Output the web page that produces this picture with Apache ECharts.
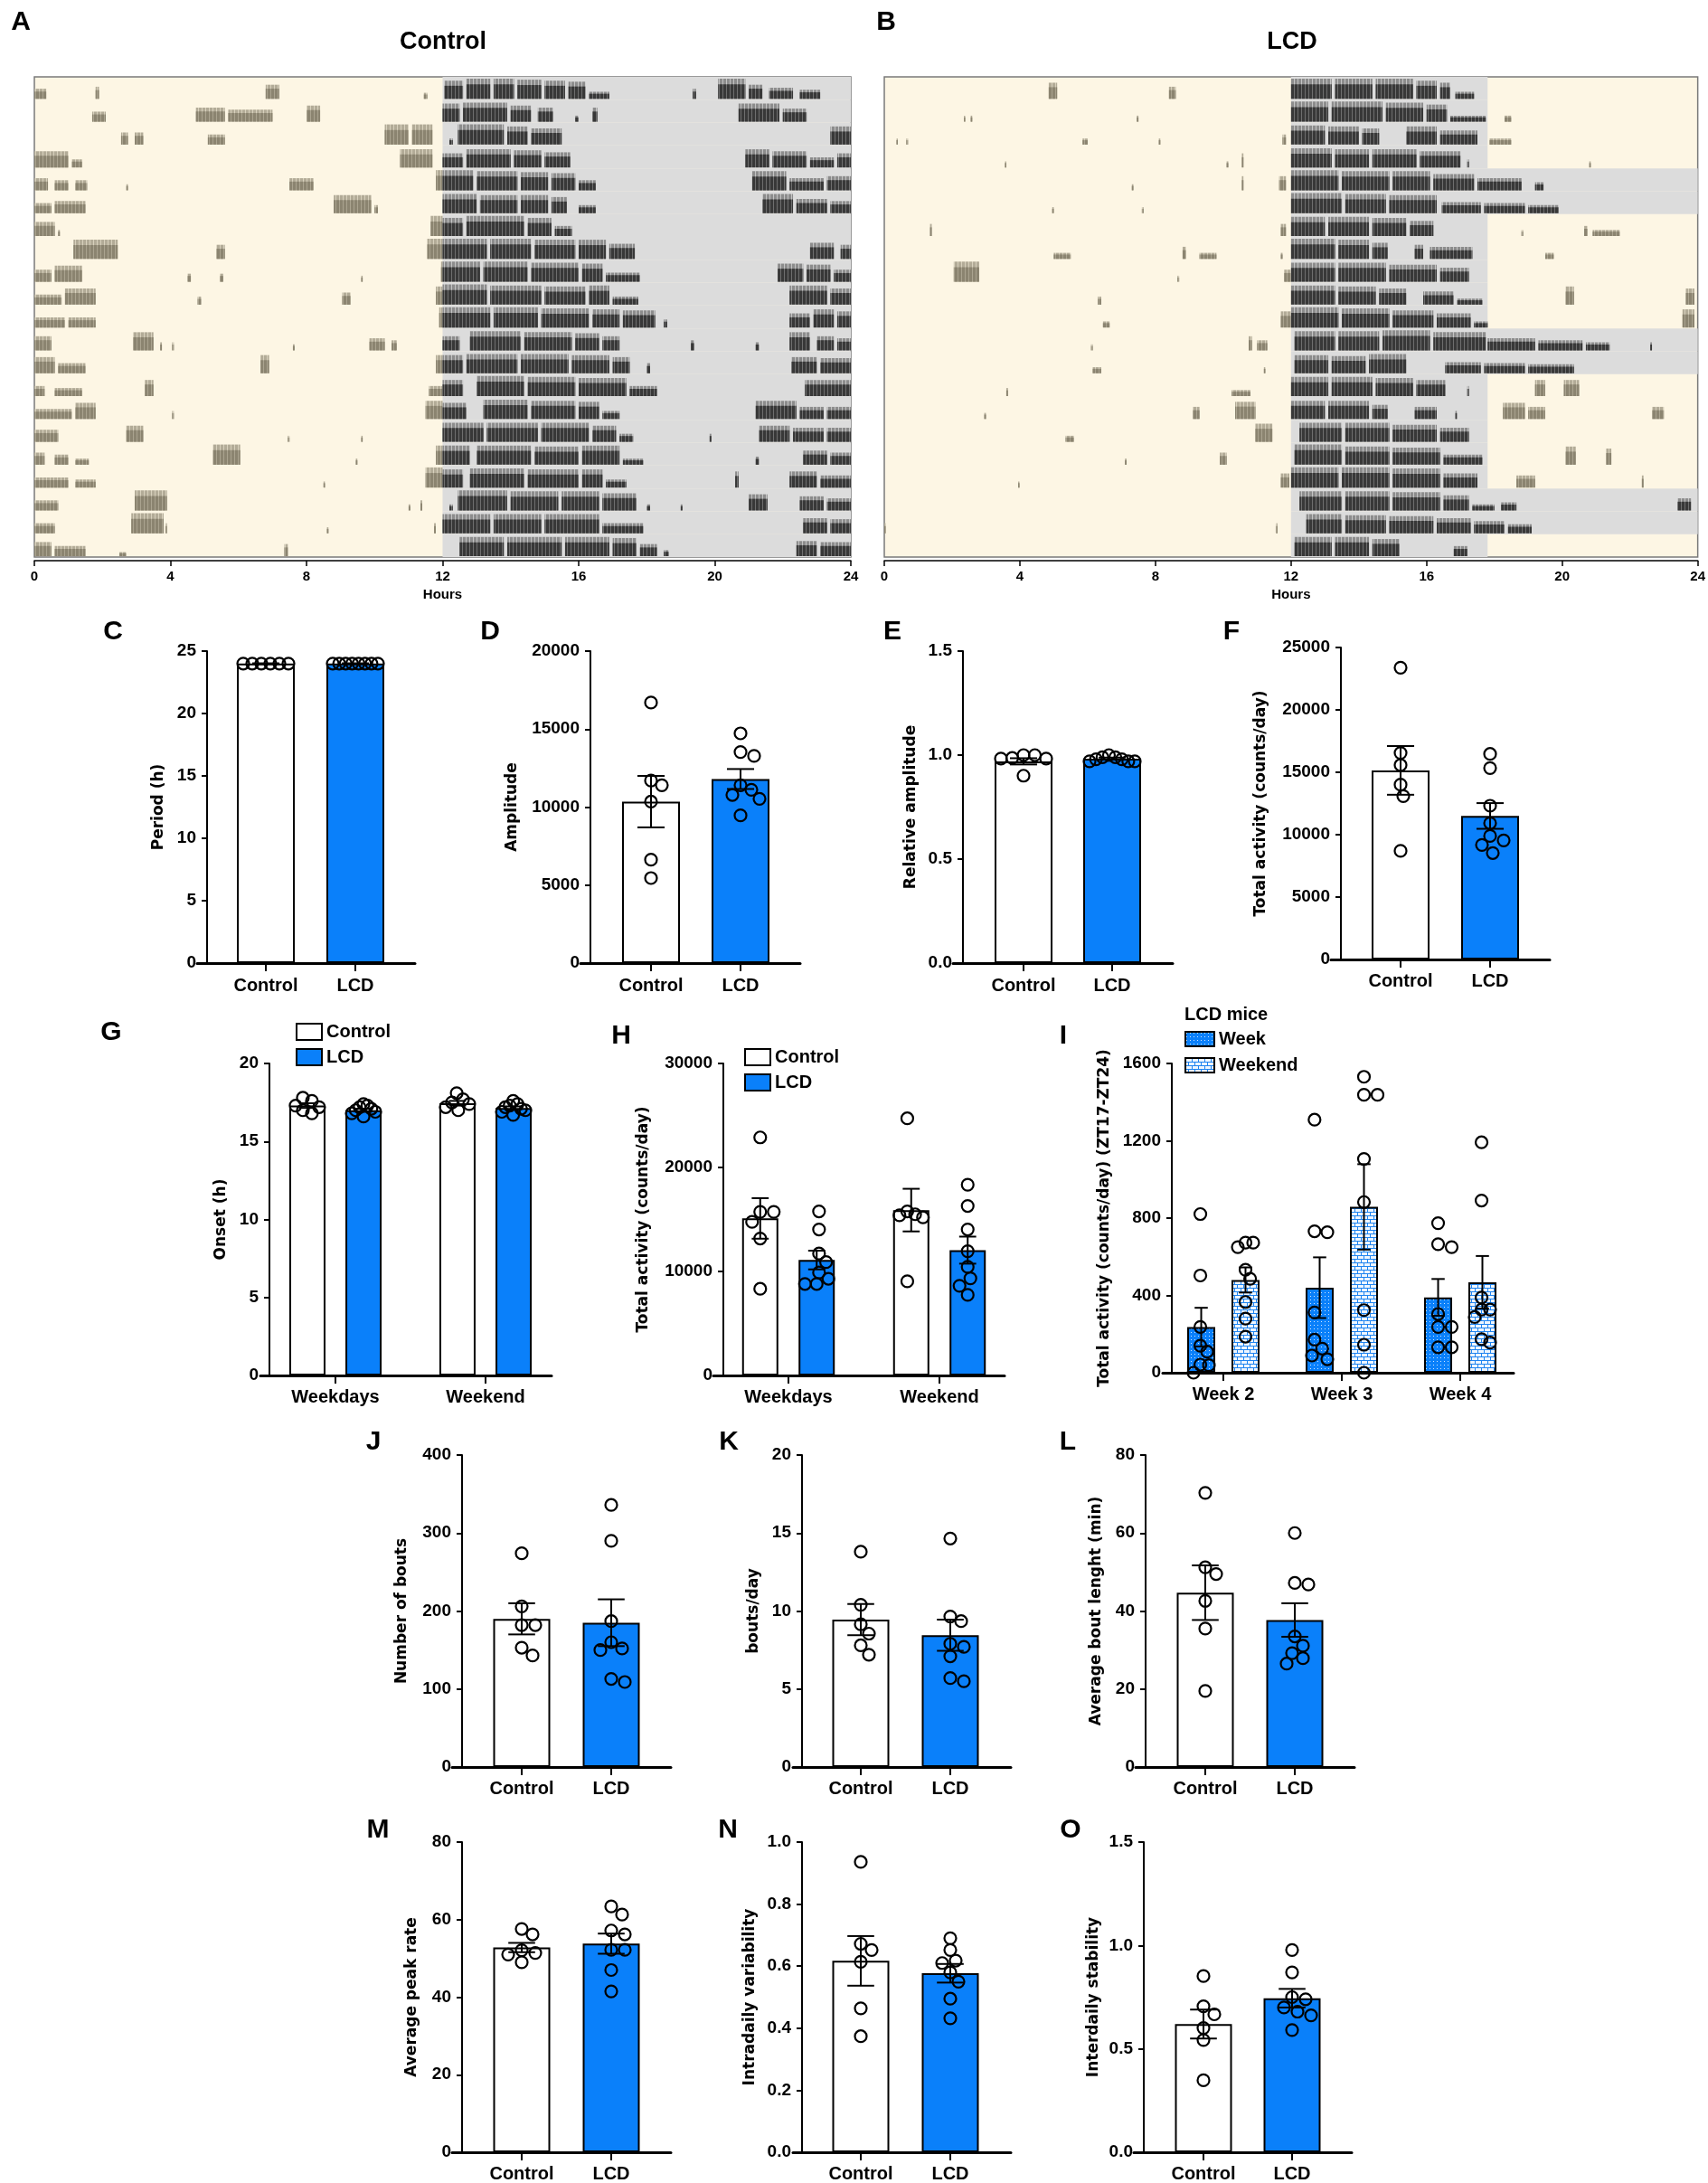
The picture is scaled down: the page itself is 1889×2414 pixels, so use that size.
<!DOCTYPE html>
<html>
<head>
<meta charset="utf-8">
<title>Activity</title>
<script src="https://cdn.jsdelivr.net/npm/echarts@6.0.0/dist/echarts.min.js"></script>
<style>
  html, body { margin: 0; padding: 0; background: #fff; }
  #chart { width: 1889px; height: 2414px; }
</style>
</head>
<body>
<div id="chart"></div>
<script>
// ---------- actogram data: per day row, bouts as [startHour, endHour, relativeHeight] ----------
const ctlRows = [
  [[0,0.35,.5],[1.8,1.9,.6],[6.8,7.2,.7],[11.45,11.55,.3],[12.05,12.6,.9],[12.7,13.4,1],[13.5,14.1,1],[14.2,14.9,.95],[15.0,15.6,.9],[15.7,16.2,.85],[16.3,16.9,.35],[19.35,19.45,.5],[20.1,20.9,1],[21.0,21.4,.7],[21.6,22.3,.55],[22.5,23.1,.45]],
  [[1.7,2.1,.5],[4.75,5.6,.7],[5.7,7.0,.6],[8.0,8.4,.8],[12.0,12.5,.9],[12.6,13.9,.95],[14.0,14.6,.8],[14.8,15.25,.7],[15.9,16.0,.3],[16.4,16.55,.7],[20.7,21.9,.9],[22.0,22.7,.65]],
  [[2.55,2.75,.6],[2.95,3.2,.6],[5.1,5.6,.5],[10.3,11.0,1],[11.1,11.7,1],[12.2,12.3,.3],[12.45,13.8,1],[13.9,14.5,.9],[14.6,15.5,.8],[23.4,24,.9]],
  [[0,1.0,.8],[1.1,1.4,.4],[10.75,11.7,.9],[12.0,12.6,.7],[12.7,14.0,.9],[14.1,14.9,.85],[15.0,15.75,.75],[20.9,21.6,.9],[21.7,22.7,.8],[22.8,23.5,.5],[23.6,24,.7]],
  [[0,0.4,.6],[0.6,1.0,.5],[1.2,1.55,.5],[2.7,2.75,.3],[7.5,8.2,.6],[11.8,12.9,1],[13.0,14.2,.95],[14.3,15.1,.9],[15.2,15.9,.85],[16.0,16.5,.5],[21.1,22.1,.95],[22.2,23.2,.6],[23.3,24,.7]],
  [[0,0.5,.5],[0.6,1.5,.6],[8.8,9.9,.9],[10.0,10.1,.4],[12.0,13.0,.95],[13.1,14.2,.9],[14.3,15.1,.9],[15.2,15.65,.8],[16.0,16.5,.4],[21.4,22.3,.95],[22.4,23.3,.7],[23.4,24,.6]],
  [[0,0.6,.7],[0.7,0.75,.3],[11.65,12.0,1],[12.0,12.6,.9],[12.7,14.4,1],[14.5,15.2,.9],[15.3,15.8,.5]],
  [[1.15,2.45,.95],[5.35,5.6,.7],[11.55,12.0,1],[12.0,13.3,1],[13.4,14.6,1],[14.7,15.9,.95],[16.0,16.8,.95],[16.9,17.65,.75],[22.8,23.5,.8],[23.7,24,.7]],
  [[0,0.5,.6],[0.6,1.4,.8],[4.5,4.6,.4],[5.45,5.55,.4],[9.6,9.65,.3],[11.95,13.1,1],[13.2,14.5,1],[14.6,16.0,.95],[16.1,16.7,.9],[16.8,17.8,.45],[21.85,22.6,.9],[22.7,23.4,.85],[23.5,24,.6]],
  [[0,0.8,.5],[0.9,1.8,.8],[4.8,4.9,.4],[9.05,9.3,.6],[11.8,12.0,.9],[12.0,13.3,1],[13.4,14.9,.95],[15.0,16.2,.9],[16.3,16.9,.95],[17.0,17.75,.4],[22.2,23.3,.95],[23.4,24,.8]],
  [[0,0.9,.5],[1.0,1.8,.5],[11.9,13.4,1],[13.5,14.8,1],[14.9,16.3,.95],[16.4,17.2,.9],[17.3,18.25,.85],[18.5,18.6,.4],[22.2,22.8,.7],[22.9,23.5,.9],[23.6,24,.8]],
  [[0,0.5,.7],[2.9,3.5,.9],[3.7,3.75,.4],[4.05,4.1,.4],[7.6,7.65,.3],[9.85,10.3,.6],[10.5,10.65,.5],[12.0,12.5,.7],[12.8,14.3,.95],[14.4,15.8,.9],[15.9,16.6,.85],[16.7,17.2,.7],[19.3,19.4,.5],[21.2,21.3,.4],[22.2,22.8,.9],[23.0,23.5,.7],[23.6,24,.6]],
  [[0,0.6,.8],[0.7,1.5,.5],[6.65,6.9,.9],[11.8,12.6,.9],[12.7,14.2,.95],[14.3,15.7,.95],[15.8,16.9,.9],[17.0,17.5,.8],[18.0,18.1,.5],[22.25,23.0,.8],[23.1,24,.75]],
  [[0,0.3,.5],[0.6,1.4,.4],[3.25,3.5,.8],[11.6,12.0,.5],[12.0,12.6,.8],[13.0,14.4,1],[14.5,15.9,.95],[16.0,17.4,.9],[17.5,18.3,.5],[22.65,24,.8]],
  [[0,1.1,.5],[1.2,1.8,.8],[4.05,4.1,.4],[11.5,12.0,.9],[12.0,12.7,.8],[13.2,14.5,.95],[14.6,15.9,.9],[16.0,16.6,.85],[16.7,17.2,.4],[21.2,22.4,.9],[22.5,23.2,.6],[23.3,24,.6]],
  [[0,0.7,.6],[2.7,3.2,.8],[7.45,7.5,.3],[9.6,9.65,.3],[12.0,13.2,.95],[13.3,14.8,.95],[14.9,16.3,.95],[16.4,17.1,.8],[17.2,17.6,.4],[19.85,19.9,.4],[21.3,22.2,.8],[22.3,23.2,.7],[23.3,24,.7]],
  [[0,0.3,.6],[0.6,1.0,.5],[1.2,1.6,.3],[5.25,6.05,1],[9.45,9.5,.3],[11.8,12.8,.95],[13.0,14.6,.95],[14.7,16.0,.9],[16.1,17.2,.95],[17.3,17.9,.3],[21.2,21.3,.4],[22.6,23.3,.7],[23.4,24,.6]],
  [[0,1.0,.5],[1.2,1.8,.4],[8.5,8.55,.3],[11.5,12.0,1],[12.0,12.6,.9],[12.8,14.4,.95],[14.5,16.0,.9],[16.1,16.7,.9],[16.8,17.4,.4],[20.6,20.7,.8],[22.2,23.0,.8],[23.1,24,.6]],
  [[0,0.7,.5],[2.95,3.9,1],[11.0,11.05,.3],[11.35,11.4,.5],[12.2,12.3,.3],[12.45,13.9,1],[14.0,15.4,.95],[15.5,16.6,.95],[16.7,17.7,.85],[18.0,18.1,.3],[19.0,19.05,.3],[21.0,21.55,.8],[22.5,23.2,.7],[23.3,24,.6]],
  [[0,0.6,.5],[2.85,3.8,1],[3.85,3.9,.5],[8.6,8.65,.3],[11.75,11.8,.5],[12.0,13.4,.95],[13.5,14.9,.95],[15.0,16.6,.95],[16.7,17.9,.5],[22.6,23.3,.75],[23.4,24,.7]],
  [[0,0.5,.7],[0.6,1.5,.5],[2.5,2.7,.2],[7.35,7.45,.6],[12.5,13.8,.95],[13.9,15.5,.95],[15.6,16.9,.95],[17.0,17.7,.9],[17.8,18.3,.6],[18.5,18.65,.3],[22.4,23.0,.75],[23.1,24,.7]]
];
const lcdRows = [
  [[4.85,5.1,.8],[8.4,8.6,.6],[12.0,13.2,1],[13.3,14.4,1],[14.5,15.6,1],[15.7,16.3,.9],[16.4,16.7,.8],[16.85,17.4,.35]],
  [[2.35,2.4,.3],[2.55,2.6,.3],[7.45,7.5,.3],[12.0,13.1,1],[13.2,14.7,1],[14.8,15.9,.95],[16.0,16.6,.85],[16.7,17.75,.3],[18.3,18.5,.3]],
  [[0.35,0.4,.3],[0.65,0.7,.3],[5.85,6.0,.3],[8.1,8.15,.3],[11.75,11.85,.5],[12.0,13.0,.95],[13.1,14.0,.9],[14.1,14.6,.8],[15.4,16.3,.9],[16.4,17.5,.7],[17.85,18.5,.3]],
  [[3.55,3.6,.3],[10.1,10.15,.3],[10.55,10.6,.7],[12.0,13.2,.95],[13.3,14.3,.9],[14.4,15.7,.9],[15.8,17.0,.8],[17.2,17.25,.4],[20.8,20.85,.3]],
  [[7.3,7.35,.3],[10.55,10.6,.7],[11.65,11.85,.7],[12.0,13.4,1],[13.5,14.9,.95],[15.0,16.1,.95],[16.2,17.4,.8],[17.5,18.8,.6],[19.2,19.45,.4]],
  [[4.95,5.0,.3],[7.6,7.65,.3],[12.0,13.5,1],[13.6,14.8,.95],[14.9,16.3,.9],[16.45,17.6,.55],[17.7,18.9,.5],[19.0,19.9,.4]],
  [[1.35,1.4,.6],[11.7,11.85,.6],[12.0,13.0,.95],[13.1,14.3,.95],[14.4,15.4,.9],[15.5,16.2,.75],[18.8,18.85,.3],[20.65,20.75,.5],[20.9,21.7,.3]],
  [[5.0,5.5,.3],[8.8,8.9,.6],[9.3,9.8,.3],[11.7,11.75,.3],[12.0,13.3,1],[13.4,14.3,.95],[14.4,14.85,.8],[15.65,15.9,.7],[16.1,17.35,.6],[19.5,19.75,.3]],
  [[2.05,2.8,1],[8.65,8.7,.3],[11.8,12.0,.6],[12.0,13.3,.95],[13.4,14.8,.95],[14.9,16.3,.85],[16.4,17.25,.7]],
  [[6.3,6.4,.4],[12.0,13.3,.95],[13.4,14.5,.9],[14.6,15.4,.8],[15.9,16.8,.65],[16.9,17.65,.3],[20.1,20.35,.9],[23.65,23.9,.8]],
  [[6.45,6.65,.3],[11.7,12.0,.8],[12.0,13.4,1],[13.5,14.9,.95],[15.0,16.2,.85],[16.3,17.3,.7],[17.4,17.8,.3],[23.55,23.9,.9]],
  [[6.1,6.15,.3],[10.75,10.85,.7],[11.0,11.3,.5],[12.1,13.3,.95],[13.4,14.6,.95],[14.7,16.1,1],[16.2,17.75,.9],[17.8,19.2,.6],[19.3,20.6,.5],[20.7,21.4,.4],[22.6,22.65,.4]],
  [[6.15,6.4,.3],[11.2,11.25,.3],[12.1,13.1,.9],[13.2,14.2,.85],[14.3,15.4,.95],[16.55,17.6,.55],[17.7,18.9,.5],[19.0,20.35,.45]],
  [[3.6,3.65,.4],[10.25,10.8,.3],[12.0,13.1,.95],[13.2,14.4,.95],[14.5,15.6,.9],[15.7,16.55,.8],[17.2,17.25,.5],[19.2,19.5,.8],[20.05,20.5,.8]],
  [[2.95,3.0,.3],[9.1,9.3,.6],[10.35,10.95,.85],[12.0,13.0,.9],[13.1,14.3,.9],[14.4,14.85,.7],[15.65,16.3,.6],[16.85,16.9,.4],[18.25,18.9,.8],[19.0,19.5,.6],[22.65,23.0,.6]],
  [[5.35,5.6,.3],[10.95,11.45,.9],[12.25,13.5,.95],[13.6,14.9,.95],[15.0,16.3,.85],[16.4,17.25,.7]],
  [[7.1,7.15,.3],[9.9,10.1,.6],[12.1,13.5,1],[13.6,14.9,.9],[15.0,16.4,.85],[16.5,17.65,.5],[20.1,20.4,.9],[21.3,21.45,.8]],
  [[3.95,4.0,.3],[11.7,11.95,.7],[12.0,13.4,1],[13.5,14.9,1],[15.0,16.4,.95],[16.5,17.5,.7],[18.65,19.2,.6],[22.35,22.4,.6]],
  [[12.25,13.5,.95],[13.6,14.9,.95],[15.0,16.4,.9],[16.5,17.25,.75],[17.35,18.0,.3],[18.2,18.65,.4],[23.4,23.8,.6]],
  [[0,0.05,.5],[11.55,11.6,.5],[12.45,13.5,.95],[13.6,14.8,.9],[14.9,16.2,.85],[16.3,17.3,.75],[17.4,18.3,.6],[18.4,19.1,.45]],
  [[12.1,13.2,.95],[13.3,14.3,.95],[14.4,15.2,.85],[16.8,17.2,.5]]
];
const darkOnset = 12;
const ctlDarkEnd = 24;
const lcdDarkEnd = 17.8;
const lcdWeekendRows = [4, 5, 11, 12, 18, 19];

// ---------- summary data: mean, SEM and individual animals ----------
const periodMean = [24.0, 24.0];
const periodSem = [0.02, 0.02];
const periodPts = [[24, 24, 24, 24, 24, 24], [24, 24, 24, 24, 24, 24, 24, 24]];

const ampMean = [10350, 11800];
const ampSem = [1650, 640];
const ampPts = [[16700, 11700, 11400, 10350, 6630, 5450], [14725, 13530, 13280, 11400, 11110, 10780, 10530, 9470]];

const relAmpMean = [0.97, 0.983];
const relAmpSem = [0.015, 0.005];
const relAmpPts = [[1.0, 0.983, 1.0, 0.983, 0.986, 0.901], [0.99, 0.97, 1.0, 0.98, 0.99, 0.97, 0.98, 0.97]];

const totalMean = [15150, 11500];
const totalSem = [1950, 1030];
const totalPts = [[23380, 16550, 15580, 14010, 13090, 8700], [16470, 15340, 12320, 10920, 9900, 9540, 9180, 8530]];

// weekdays Control, weekdays LCD, weekend Control, weekend LCD
const onsetMean = [17.3, 17.0, 17.45, 17.15];
const onsetSem = [0.15, 0.1, 0.15, 0.1];
const onsetPts = [[17.8, 17.6, 17.3, 17.2, 17.0, 16.8], [17.4, 17.3, 17.2, 17.1, 17.0, 16.9, 16.8, 16.6],
                  [18.1, 17.7, 17.5, 17.4, 17.2, 17.0], [17.6, 17.4, 17.3, 17.2, 17.1, 17.0, 16.9, 16.7]];

const weekTotalMean = [15100, 11100, 15900, 12050];
const weekTotalSem = [1950, 900, 2050, 1300];
const weekTotalPts = [[22890, 15730, 15730, 14770, 13170, 8330], [15780, 14040, 11720, 10900, 9900, 9300, 8800, 8800],
                      [24720, 15780, 15500, 15400, 15200, 9050], [18340, 16300, 14040, 11950, 10440, 9340, 8620, 7750]];

// week 2..4, each: Week, Weekend (LCD mice, ZT17-ZT24)
const lateMean = [236, 480, 440, 858, 390, 468];
const lateSem = [100, 65, 157, 221, 95, 136];
const latePts = [[821, 503, 237, 140, 109, 42, 39, 0], [673, 650, 673, 533, 486, 366, 280, 187],
                 [1309, 732, 727, 312, 171, 125, 89, 70], [1531, 1438, 1438, 1106, 883, 324, 145, 0],
                 [774, 665, 650, 304, 237, 237, 132, 132], [1192, 891, 389, 327, 327, 288, 174, 156]];

const boutsMean = [190, 185];
const boutsSem = [20, 30];
const boutsPts = [[274, 206, 182, 182, 153, 143], [336, 290, 187, 160, 152, 150, 113, 109]];

const boutsDayMean = [9.45, 8.45];
const boutsDaySem = [1.0, 1.0];
const boutsDayPts = [[13.8, 10.4, 9.15, 8.55, 7.8, 7.2], [14.65, 9.65, 9.35, 7.9, 7.7, 7.1, 5.7, 5.5]];

const boutLenMean = [44.7, 37.7];
const boutLenSem = [7.0, 4.3];
const boutLenPts = [[70.3, 51.2, 49.5, 42.6, 35.5, 19.5], [60, 47.2, 46.8, 33.5, 31.1, 29.2, 27.9, 26.5]];

const peakMean = [52.8, 53.8];
const peakSem = [1.2, 2.6];
const peakPts = [[57.6, 56.2, 52.1, 51.4, 51.0, 49.0], [63.4, 61.3, 57.2, 56.2, 52.2, 52.2, 47.0, 41.5]];

const ivMean = [0.617, 0.577];
const ivSem = [0.08, 0.03];
const ivPts = [[0.936, 0.672, 0.652, 0.614, 0.464, 0.374], [0.69, 0.652, 0.618, 0.61, 0.58, 0.55, 0.495, 0.432]];

const isMean = [0.62, 0.745];
const isSem = [0.07, 0.045];
const isPts = [[0.852, 0.706, 0.667, 0.601, 0.543, 0.348], [0.978, 0.87, 0.75, 0.74, 0.70, 0.68, 0.662, 0.591]];

// ---------- styles ----------
const FONT = 'Liberation Sans, Arial, sans-serif';
const NAME_FONT = 'DejaVu Sans, Verdana, sans-serif';
const BLUE = '#0a80fa';
const CREAM = '#fdf6e4';
const GREY = '#dcdcdc';

function makePattern(w, h, draw) {
  const cv = document.createElement('canvas');
  cv.width = w; cv.height = h;
  draw(cv.getContext('2d'));
  return { image: cv, repeat: 'repeat' };
}
function stripes(c1, c2) {
  return makePattern(4, 4, g => {
    g.fillStyle = c1; g.fillRect(0, 0, 3, 4);
    g.fillStyle = c2; g.fillRect(3, 0, 1, 4);
  });
}
// [tip fill, body fill] for activity in the dark and in the light
const darkFill = [stripes('#8c8c8c', '#c4c4c4'), stripes('#383838', '#6e6e6e')];
const lightFill = [stripes('#b2ab97', '#d8d1bd'), stripes('#8b8470', '#aaa38f')];
const weekFill = makePattern(4, 4, g => {
  g.fillStyle = BLUE; g.fillRect(0, 0, 4, 4);
  g.fillStyle = '#cfe6ff'; g.fillRect(1, 1, 1, 1);
});
const weekendFill = makePattern(14, 8, g => {
  g.fillStyle = '#eef6ff'; g.fillRect(0, 0, 14, 8);
  g.fillStyle = '#1f84f0';
  g.fillRect(0, 0, 14, 1); g.fillRect(0, 4, 14, 1);
  g.fillRect(0, 0, 1, 4); g.fillRect(7, 0, 1, 4);
  g.fillRect(3, 4, 1, 4); g.fillRect(10, 4, 1, 4);
});

const ROLE_STYLE = {
  Control: { color: '#ffffff', borderColor: '#000', borderWidth: 2 },
  LCD: { color: BLUE, borderColor: '#000', borderWidth: 2 },
  Week: { color: weekFill, borderColor: '#000', borderWidth: 2 },
  Weekend: { color: weekendFill, borderColor: '#000', borderWidth: 2 }
};
const txt = (size, family) => ({ fontFamily: family || FONT, fontWeight: 'bold', fontSize: size, color: '#000' });

const grids = [], xAxes = [], yAxes = [], series = [], legends = [], graphics = [];

// ---------- actogram ----------
function actogram(rows, darkEnds, box) {
  const gi = grids.length;
  grids.push({ left: box.x0, top: box.top, width: box.x1 - box.x0, height: box.bottom - box.top,
    show: true, backgroundColor: CREAM, borderColor: '#7a7a7a', borderWidth: 1.5 });
  xAxes.push({ type: 'value', gridIndex: gi, min: 0, max: 24, interval: 4, offset: 4,
    name: 'Hours', nameLocation: 'middle', nameGap: 30, nameTextStyle: txt(15),
    axisLine: { onZero: false, lineStyle: { color: '#000', width: 1.5 } },
    axisTick: { length: 6, lineStyle: { color: '#000', width: 1.5 } },
    axisLabel: Object.assign({ margin: 10 }, txt(15)),
    splitLine: { show: false } });
  yAxes.push({ type: 'value', gridIndex: gi, min: 0, max: rows.length, inverse: true, show: false });

  const bg = darkEnds.map((de, r) => [darkOnset, r, de]);
  const act = [];
  rows.forEach((segs, r) => {
    const de = darkEnds[r];
    segs.forEach(([s, e, h]) => {
      if (s < darkOnset) act.push([s, r, Math.min(e, darkOnset), h, 0]);
      if (e > darkOnset && s < de) act.push([Math.max(s, darkOnset), r, Math.min(e, de), h, 1]);
      if (e > de) act.push([Math.max(s, de), r, e, h, 0]);
    });
  });
  series.push({ type: 'custom', xAxisIndex: gi, yAxisIndex: gi, data: bg, silent: true, z: 1,
    encode: { x: [0, 2], y: 1 },
    renderItem: (params, api) => {
      const a = api.coord([api.value(0), api.value(1)]);
      const b = api.coord([api.value(2), api.value(1) + 1]);
      return { type: 'rect', shape: { x: a[0], y: a[1], width: b[0] - a[0], height: b[1] - a[1] },
        style: { fill: GREY } };
    } });
  series.push({ type: 'custom', xAxisIndex: gi, yAxisIndex: gi, data: act, silent: true, z: 2,
    encode: { x: [0, 2], y: 1 },
    renderItem: (params, api) => {
      const r = api.value(1);
      const a = api.coord([api.value(0), r + 1]);
      const b = api.coord([api.value(2), r + 1]);
      const rowH = Math.abs(api.size([0, 1])[1]);
      const hgt = api.value(3) * (rowH - 3);
      const w = Math.max(b[0] - a[0], 1.5);
      const fills = api.value(4) ? darkFill : lightFill;
      const base = a[1] - 1;
      return { type: 'group', children: [
        { type: 'rect', shape: { x: a[0], y: base - hgt, width: w, height: hgt }, style: { fill: fills[0] } },
        { type: 'rect', shape: { x: a[0], y: base - hgt * 0.72, width: w, height: hgt * 0.72 }, style: { fill: fills[1] } }
      ] };
    } });
}

// ---------- beeswarm offsets (pixels) so circles do not pile up ----------
function swarm(vals, ppu, maxSpread) {
  const D = 13, step = 3;
  const placed = [];
  let dx = vals.map(() => 0);
  const order = vals.map((v, i) => i).sort((a, b) => vals[b] - vals[a]);
  order.forEach(i => {
    const y = vals[i] * ppu;
    for (let k = 0; k < 400; k++) {
      const off = (k % 2 ? 1 : -1) * Math.ceil(k / 2) * step;
      if (placed.every(q => Math.hypot(q.x - off, q.y - y) >= D)) {
        dx[i] = off; placed.push({ x: off, y: y }); break;
      }
    }
  });
  const lo = Math.min(...dx), hi = Math.max(...dx);
  if (hi - lo > maxSpread) {
    const f = maxSpread / (hi - lo), mid = (hi + lo) / 2;
    dx = dx.map(d => (d - mid) * f);
  }
  return dx;
}

// ---------- bar + dots + SEM panel ----------
function barPanel(p) {
  const gi = grids.length;
  const sp = p.c[1] - p.c[0];
  const toX = px => (px - p.c[0]) / sp;
  const per = p.mean.length / p.groups.length;
  const gx = p.groups.map((g, i) => i);
  grids.push({ left: p.x0, top: p.top, width: p.x1 - p.x0, height: p.bottom - p.top });
  xAxes.push({ type: 'value', gridIndex: gi, min: toX(p.x0), max: toX(p.x1),
    axisLine: { onZero: false, lineStyle: { color: '#000', width: 3 } },
    axisTick: { customValues: gx, length: 9, lineStyle: { color: '#000', width: 2 } },
    axisLabel: Object.assign({ customValues: gx, margin: p.lm || 14,
      formatter: v => p.groups[Math.round(v)] }, txt(20)),
    splitLine: { show: false } });
  yAxes.push({ type: 'value', gridIndex: gi, min: 0, max: p.max, interval: p.step, offset: p.x0 - p.ax,
    name: p.yName, nameLocation: 'middle', nameGap: p.gap, nameRotate: 90, nameTextStyle: txt(17, NAME_FONT),
    axisLine: { show: true, onZero: false, lineStyle: { color: '#000', width: 2 } },
    axisTick: { show: true, length: 6, lineStyle: { color: '#000', width: 2 } },
    axisLabel: Object.assign({ margin: 12, formatter: v => v.toFixed(p.dec || 0) }, txt(19)),
    splitLine: { show: false } });

  const bx = p.mean.map((m, j) => Math.floor(j / per) + ((j % per) - (per - 1) / 2) * 0.374);
  const roleOf = j => p.roles[j % p.roles.length];
  p.roles.forEach(role => {
    series.push({ type: 'bar', name: role, xAxisIndex: gi, yAxisIndex: gi, barWidth: p.bw, barGap: '-100%',
      itemStyle: ROLE_STYLE[role], z: 2, silent: true,
      data: p.mean.map((m, j) => [bx[j], m]).filter((d, j) => roleOf(j) === role) });
  });

  const ppu = (p.bottom - p.top) / p.max;
  const dots = [];
  p.pts.forEach((vals, j) => {
    const dx = swarm(vals, ppu, p.bw - 14);
    vals.forEach((v, i) => dots.push([bx[j], v, dx[i]]));
  });
  series.push({ type: 'custom', xAxisIndex: gi, yAxisIndex: gi, data: dots, z: 4, clip: false, silent: true,
    encode: { x: 0, y: 1 },
    renderItem: (params, api) => {
      const c = api.coord([api.value(0), api.value(1)]);
      return { type: 'circle', shape: { cx: c[0] + api.value(2), cy: c[1], r: 6.5 },
        style: { fill: 'rgba(0,0,0,0)', stroke: '#000', lineWidth: 2.2 } };
    } });

  const capW = p.bw * 0.47;
  series.push({ type: 'custom', xAxisIndex: gi, yAxisIndex: gi, z: 5, clip: false, silent: true,
    data: p.mean.map((m, j) => [bx[j], m, p.sem[j]]),
    encode: { x: 0, y: 1 },
    renderItem: (params, api) => {
      const x = api.value(0), m = api.value(1), s = api.value(2);
      const t = api.coord([x, m + s]), b = api.coord([x, m - s]);
      const hw = capW / 2, st = { stroke: '#000', lineWidth: 2 };
      return { type: 'group', children: [
        { type: 'line', shape: { x1: t[0], y1: t[1], x2: b[0], y2: b[1] }, style: st },
        { type: 'line', shape: { x1: t[0] - hw, y1: t[1], x2: t[0] + hw, y2: t[1] }, style: st },
        { type: 'line', shape: { x1: b[0] - hw, y1: b[1], x2: b[0] + hw, y2: b[1] }, style: st }
      ] };
    } });
}

// ---------- build ----------
actogram(ctlRows, ctlRows.map(() => ctlDarkEnd), { x0: 38, x1: 941, top: 85, bottom: 616 });
actogram(lcdRows, lcdRows.map((r, i) => lcdWeekendRows.includes(i) ? ctlDarkEnd : lcdDarkEnd),
  { x0: 978, x1: 1880, top: 85, bottom: 616 });

const CL = ['Control', 'LCD'];
const WK = ['Weekdays', 'Weekend'];
const ROLES = ['Control', 'LCD'];
barPanel({ x0: 218, ax: 229, x1: 459, c: [294, 393], top: 720, bottom: 1065, max: 25, step: 5, bw: 64,
  yName: 'Period (h)', gap: 45, lm: 15, groups: CL, roles: ROLES, mean: periodMean, sem: periodSem, pts: periodPts });
barPanel({ x0: 642, ax: 653, x1: 885, c: [720, 819], top: 720, bottom: 1065, max: 20000, step: 5000, bw: 64,
  yName: 'Amplitude', gap: 78, lm: 15, groups: CL, roles: ROLES, mean: ampMean, sem: ampSem, pts: ampPts });
barPanel({ x0: 1054, ax: 1065, x1: 1297, c: [1132, 1230], top: 720, bottom: 1065, max: 1.5, step: 0.5, dec: 1, bw: 64,
  yName: 'Relative amplitude', gap: 49, lm: 15, groups: CL, roles: ROLES, mean: relAmpMean, sem: relAmpSem, pts: relAmpPts });
barPanel({ x0: 1472, ax: 1483, x1: 1714, c: [1549, 1648], top: 716, bottom: 1061, max: 25000, step: 5000, bw: 64,
  yName: 'Total activity (counts/day)', gap: 80, lm: 14, groups: CL, roles: ROLES, mean: totalMean, sem: totalSem, pts: totalPts });

barPanel({ x0: 288, ax: 298, x1: 610, c: [371, 537], top: 1176, bottom: 1521, max: 20, step: 5, bw: 40,
  yName: 'Onset (h)', gap: 45, groups: WK, roles: ROLES, mean: onsetMean, sem: onsetSem, pts: onsetPts });
barPanel({ x0: 789, ax: 800, x1: 1111, c: [872, 1039], top: 1176, bottom: 1521, max: 30000, step: 10000, bw: 40,
  yName: 'Total activity (counts/day)', gap: 80, groups: WK, roles: ROLES, mean: weekTotalMean, sem: weekTotalSem, pts: weekTotalPts });
barPanel({ x0: 1286, ax: 1296, x1: 1674, c: [1353, 1484], top: 1176, bottom: 1518, max: 1600, step: 400, bw: 31,
  yName: 'Total activity (counts/day) (ZT17-ZT24)', gap: 66, groups: ['Week 2', 'Week 3', 'Week 4'], roles: ['Week', 'Weekend'],
  mean: lateMean, sem: lateSem, pts: latePts });

barPanel({ x0: 500, ax: 511, x1: 742, c: [577, 676], top: 1609, bottom: 1954, max: 400, step: 100, bw: 63,
  yName: 'Number of bouts', gap: 58, groups: CL, roles: ROLES, mean: boutsMean, sem: boutsSem, pts: boutsPts });
barPanel({ x0: 877, ax: 887, x1: 1118, c: [952, 1051], top: 1609, bottom: 1954, max: 20, step: 5, bw: 63,
  yName: 'bouts/day', gap: 45, groups: CL, roles: ROLES, mean: boutsDayMean, sem: boutsDaySem, pts: boutsDayPts });
barPanel({ x0: 1256, ax: 1267, x1: 1498, c: [1333, 1432], top: 1609, bottom: 1954, max: 80, step: 20, bw: 63,
  yName: 'Average bout lenght (min)', gap: 46, groups: CL, roles: ROLES, mean: boutLenMean, sem: boutLenSem, pts: boutLenPts });

barPanel({ x0: 500, ax: 511, x1: 742, c: [577, 676], top: 2037, bottom: 2382, max: 80, step: 20, bw: 63,
  yName: 'Average peak rate', gap: 47, groups: CL, roles: ROLES, mean: peakMean, sem: peakSem, pts: peakPts });
barPanel({ x0: 877, ax: 887, x1: 1118, c: [952, 1051], top: 2037, bottom: 2382, max: 1.0, step: 0.2, dec: 1, bw: 63,
  yName: 'Intradaily variability', gap: 49, groups: CL, roles: ROLES, mean: ivMean, sem: ivSem, pts: ivPts });
barPanel({ x0: 1254, ax: 1265, x1: 1495, c: [1331, 1429], top: 2037, bottom: 2382, max: 1.5, step: 0.5, dec: 1, bw: 63,
  yName: 'Interdaily stability', gap: 47, groups: CL, roles: ROLES, mean: isMean, sem: isSem, pts: isPts });

// legends
const legendBase = { orient: 'vertical', padding: 0, selectedMode: false, icon: 'rect', textStyle: txt(20) };
legends.push(Object.assign({ left: 327, top: 1131, itemWidth: 28, itemHeight: 18, itemGap: 8, data: ['Control', 'LCD'] }, legendBase));
legends.push(Object.assign({ left: 823, top: 1159, itemWidth: 28, itemHeight: 18, itemGap: 8, data: ['Control', 'LCD'] }, legendBase));
legends.push(Object.assign({ left: 1310, top: 1139, itemWidth: 32, itemHeight: 16, itemGap: 9, data: ['Week', 'Weekend'] }, legendBase));

// panel letters and titles
const letters = [['A', 23, 25], ['B', 980, 25], ['C', 125, 699], ['D', 542, 699], ['E', 987, 699], ['F', 1362, 699],
  ['G', 123, 1142], ['H', 687, 1146], ['I', 1176, 1146], ['J', 413, 1595], ['K', 806, 1595], ['L', 1181, 1595],
  ['M', 418, 2024], ['N', 805, 2024], ['O', 1184, 2024]];
letters.forEach(([t, x, y]) => graphics.push({ type: 'text', x: x, y: y, silent: true,
  style: { text: t, font: 'bold 30px ' + FONT, fill: '#000', align: 'center', verticalAlign: 'middle',
    textAlign: 'center', textVerticalAlign: 'middle' } }));
[['Control', 490, 47], ['LCD', 1429, 47]].forEach(([t, x, y]) => graphics.push({ type: 'text', x: x, y: y, silent: true,
  style: { text: t, font: 'bold 27px ' + FONT, fill: '#000', align: 'center', verticalAlign: 'middle',
    textAlign: 'center', textVerticalAlign: 'middle' } }));
graphics.push({ type: 'text', x: 1310, y: 1122, silent: true,
  style: { text: 'LCD mice', font: 'bold 20px ' + FONT, fill: '#000', align: 'left', verticalAlign: 'middle',
    textAlign: 'left', textVerticalAlign: 'middle' } });

const chart = echarts.init(document.getElementById('chart'));
chart.setOption({
  animation: false,
  backgroundColor: '#ffffff',
  grid: grids,
  xAxis: xAxes,
  yAxis: yAxes,
  legend: legends,
  graphic: graphics,
  series: series
});
</script>
</body>
</html>
